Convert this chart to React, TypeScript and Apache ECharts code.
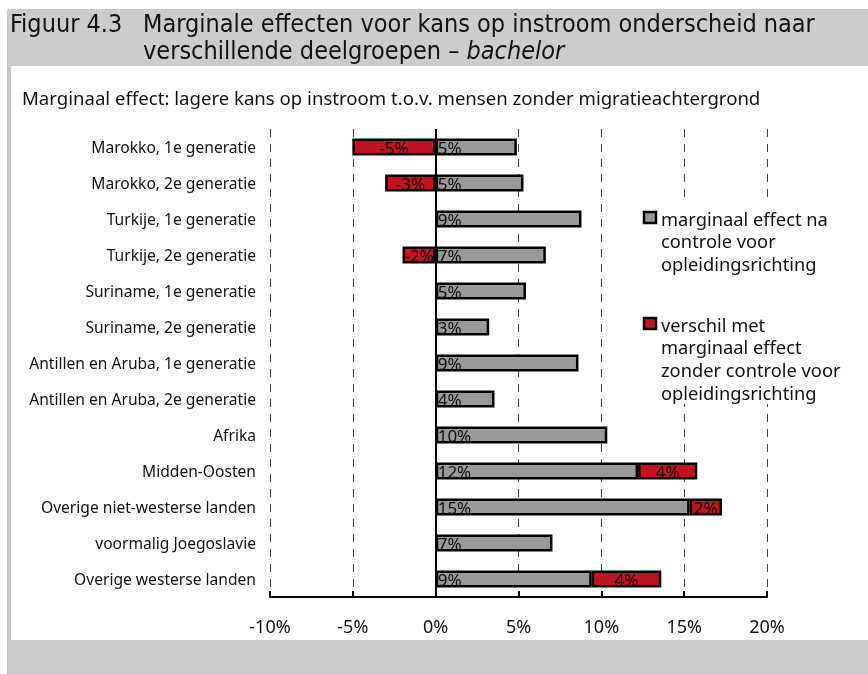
import React, { useEffect, useRef } from "react";
import * as echarts from "echarts";

const categories = [
  "Marokko, 1e generatie",
  "Marokko, 2e generatie",
  "Turkije, 1e generatie",
  "Turkije, 2e generatie",
  "Suriname, 1e generatie",
  "Suriname, 2e generatie",
  "Antillen en Aruba, 1e generatie",
  "Antillen en Aruba, 2e generatie",
  "Afrika",
  "Midden-Oosten",
  "Overige niet-westerse landen",
  "voormalig Joegoslavie",
  "Overige westerse landen",
];
const greyValues = [4.9, 5.3, 8.8, 6.65, 5.45, 3.23, 8.62, 3.55, 10.36, 12.22, 15.33, 7.05, 9.42];
const redValues = [-5.03, -3.05, null, -2.0, null, null, null, null, null, 3.57, 1.95, null, 4.2];
const xTicks = { min: -10, max: 20, interval: 5 };
const legendGrey = ["marginaal effect na", "controle voor", "opleidingsrichting"];
const legendRed = ["verschil met", "marginaal effect", "zonder controle voor", "opleidingsrichting"];

const FONT = "'Noto Sans', 'Open Sans', sans-serif";
const TITLE_FONT = "'Liberation Sans Narrow', 'DejaVu Sans Condensed', sans-serif";
const GREY = "#999999";
const RED = "#c1121f";

export default function App() {
  const ref = useRef<HTMLDivElement>(null);
  useEffect(() => {
    document.body.style.margin = "0";
    const chart = echarts.init(ref.current!, null, { renderer: "svg" });
    const pct = (p: any) => (p.value == null ? "" : Math.round(p.value) + "%");
    const legendText = (lines: string[], y0: number) =>
      lines.map((t, i) => ({
        type: "text",
        x: 661,
        y: y0 + i * 22.8,
        z: 101,
        style: { text: t, fontFamily: FONT, fontSize: 18.3, fill: "#111", textVerticalAlign: "middle" },
      }));
    chart.setOption({
      animation: false,
      grid: { left: 270, right: 101, top: 129, bottom: 77 },
      xAxis: {
        type: "value",
        min: xTicks.min,
        max: xTicks.max,
        interval: xTicks.interval,
        axisLine: { show: true, lineStyle: { color: "#000", width: 2 } },
        axisTick: { show: true, inside: true, length: 6, lineStyle: { color: "#000", width: 2 } },
        axisLabel: { formatter: (v: number) => v + "%", fontFamily: FONT, fontSize: 18, color: "#111", margin: 20 },
        splitLine: { show: true, lineStyle: { color: "#444", width: 1, type: [8, 7] } },
      },
      yAxis: {
        type: "category",
        inverse: true,
        data: categories,
        axisLine: { show: false },
        axisTick: { show: false },
        axisLabel: { fontFamily: FONT, fontSize: 15.6, color: "#111", margin: 14 },
      },
      series: [
        {
          type: "bar",
          stack: "s",
          data: greyValues,
          barWidth: 17,
          itemStyle: { color: GREY, borderColor: "#000", borderWidth: 2.5 },
          label: { show: true, position: "insideLeft", offset: [-3, 0], formatter: pct, fontFamily: FONT, fontSize: 17, color: "#111" },
          markLine: {
            silent: true,
            symbol: "none",
            label: { show: false },
            lineStyle: { color: "#000", width: 2, type: "solid" },
            data: [{ xAxis: 0 }],
          },
        },
        {
          type: "bar",
          stack: "s",
          data: redValues,
          barWidth: 17,
          itemStyle: { color: RED, borderColor: "#000", borderWidth: 2.5 },
          label: { show: true, position: "inside", formatter: pct, fontFamily: FONT, fontSize: 17, color: "#111" },
        },
      ],
      graphic: [
        { type: "rect", z: -10, shape: { x: 7, y: 9, width: 861, height: 665 }, style: { fill: "#cccccc" } },
        { type: "rect", z: -9, shape: { x: 11, y: 66, width: 857, height: 574 }, style: { fill: "#ffffff" } },
        {
          type: "text", x: 10, y: 23, z: 5,
          style: { text: "Figuur 4.3", fontFamily: TITLE_FONT, fontSize: 25, fill: "#111", textVerticalAlign: "middle" },
        },
        {
          type: "text", x: 143, y: 23, z: 5,
          style: { text: "Marginale effecten voor kans op instroom onderscheid naar", fontFamily: TITLE_FONT, fontSize: 25, fill: "#111", textVerticalAlign: "middle" },
        },
        {
          type: "text", x: 143, y: 50, z: 5,
          style: {
            text: "{n|verschillende deelgroepen – }{i|bachelor}",
            textVerticalAlign: "middle",
            rich: {
              n: { fontFamily: TITLE_FONT, fontSize: 25, fill: "#111", color: "#111" },
              i: { fontFamily: TITLE_FONT, fontSize: 25, fontStyle: "italic", fill: "#111", color: "#111" },
            },
          },
        },
        {
          type: "text", x: 22, y: 97, z: 5,
          style: { text: "Marginaal effect: lagere kans op instroom t.o.v. mensen zonder migratieachtergrond", fontFamily: FONT, fontSize: 18.6, fill: "#111", textVerticalAlign: "middle" },
        },
        { type: "rect", z: 100, shape: { x: 640, y: 204, width: 215, height: 200 }, style: { fill: "#ffffff" } },
        { type: "rect", z: 101, shape: { x: 644, y: 212, width: 12, height: 11 }, style: { fill: GREY, stroke: "#000", lineWidth: 2.5 } },
        { type: "rect", z: 101, shape: { x: 644, y: 318, width: 12, height: 11 }, style: { fill: RED, stroke: "#000", lineWidth: 2.5 } },
        ...legendText(legendGrey, 218),
        ...legendText(legendRed, 324),
      ],
    });
    return () => chart.dispose();
  }, []);
  return <div ref={ref} style={{ position: "fixed", left: 0, top: 0, width: 868, height: 674 }} />;
}
